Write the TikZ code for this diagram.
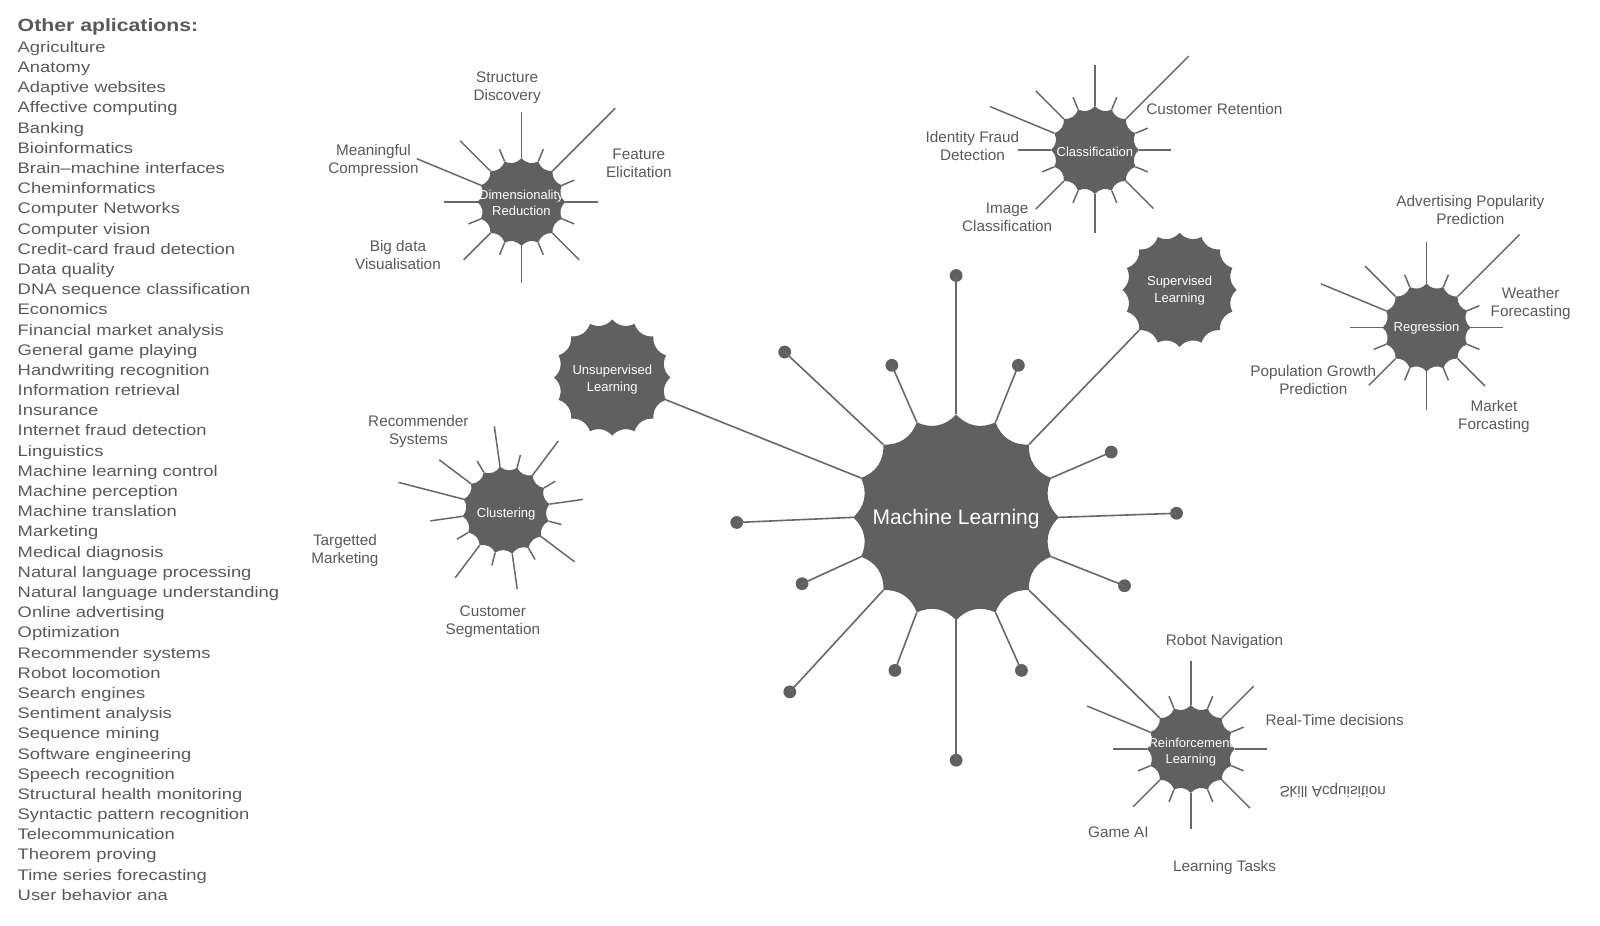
\documentclass[tikz,border=0pt]{standalone}
\usepackage{fontspec}
\setmainfont{Liberation Sans}
\newfontfamily\listfont[FakeStretch=1.2]{Liberation Sans}
\definecolor{shp}{HTML}{606060}
\definecolor{txt}{HTML}{595959}
\definecolor{ln}{HTML}{686868}
\tikzset{
  tick/.style={draw=ln, line width=0.75pt},
  spoke/.style={draw=ln, line width=0.8pt},
  dot/.style={circle, fill=shp, inner sep=0pt, minimum size=6.4pt},
  lab/.style={text=txt, font=\fontsize{7.65}{9}\selectfont, align=center, inner sep=0pt},
  inlab/.style={text=white, font=\fontsize{6.5}{8.2}\selectfont, align=center, inner sep=0pt},
  listitem/.style={text=txt, font=\listfont\fontsize{7.65}{10.1}\selectfont, anchor=base west, inner sep=0pt},
}
\newcommand\scallop[3]{% center, radius, rotation
  \fill[shp, shift={(#1)}, rotate=#3] (0:#2) foreach \k in {1,...,16}{ to[bend left=38] (\k*22.5:#2)} -- cycle;}
\newcommand\ticks[4]{% center, rotation, radius, list angle/R
  \foreach \a/\R in {#4} \draw[tick, shift={(#1)}, rotate=#2] (\a:#3) -- (\a:\R);}
\begin{document}
\begin{tikzpicture}[x=0.5102pt,y=0.5102pt]
\useasboundingbox (0,0) rectangle (1568,-907);
% ---------- left list
\node[listitem, font=\listfont\bfseries\fontsize{8.85}{10}\selectfont] (title) at (17,-31) {Other aplications:};
\foreach \t [count=\i] in {Agriculture, Anatomy, Adaptive websites, Affective computing, Banking, Bioinformatics, Brain–machine interfaces, Cheminformatics, Computer Networks, Computer vision, Credit-card fraud detection, Data quality, DNA sequence classification, Economics, Financial market analysis, General game playing, Handwriting recognition, Information retrieval, Insurance, Internet fraud detection, Linguistics, Machine learning control, Machine perception, Machine translation, Marketing, Medical diagnosis, Natural language processing, Natural language understanding, Online advertising, Optimization, Recommender systems, Robot locomotion, Search engines, Sentiment analysis, Sequence mining, Software engineering, Speech recognition, Structural health monitoring, Syntactic pattern recognition, Telecommunication, Theorem proving, Time series forecasting, User behavior ana}
  \node[listitem] (li\i) at (17,{-51.3-(\i-1)*19.786}) {\t};
% ---------- cusp coordinates
\coordinate (mlc) at (937,-507);
\coordinate (supc) at (1156,-284);
\coordinate (unsc) at (600,-370);
\coordinate (rlc) at (1167,-734);
\foreach \k in {0,...,15} {
  \path (mlc) ++(\k*22.5:101) coordinate (mlk\k);
}
\path (supc) ++(225:56) coordinate (supk);
\path (unsc) ++(-22.5:57) coordinate (unsk);
\path (rlc) ++(135:43) coordinate (rlk);
% ---------- ML spokes and dots
\foreach \k/\x/\y in {0/1153/503, 1/1089/443, 3/998/358, 4/937/270, 5/874/358, 6/769/345, 8/722/512, 9/786/572, 10/774/678, 11/877/657, 12/937/745, 13/1001/657, 15/1102/574} {
  \node[dot] (mld\k) at (\x,-\y) {};
  \draw[spoke] (mlk\k) -- (mld\k.center);
}
\draw[spoke] (mlk2) -- (supk);
\draw[spoke] (mlk7) -- (unsk);
\draw[spoke] (mlk14) -- (rlk);
% ---------- ticks
\ticks{511,-198}{0}{43}{0/75,22.5/56,45/130,67.5/56,90/88,112.5/56,135/85,157.5/111,180/76,202.5/56,225/80,247.5/56,270/79,292.5/56,315/80,337.5/56}
\ticks{1073,-147}{0}{43}{0/75,22.5/56,45/130,67.5/56,90/83,112.5/56,135/82,157.5/111,180/75,202.5/56,225/82,247.5/56,270/81,292.5/56,315/81,337.5/56}
\ticks{1398,-321}{0}{43}{0/75,22.5/56,45/129,67.5/56,90/84,112.5/56,135/85,157.5/112,180/75,202.5/56,225/80,247.5/56,270/81,292.5/56,315/81,337.5/56}
\ticks{496,-500}{8}{43}{0/76,22.5/56,45/85,67.5/56,90/83,112.5/56,135/82,157.5/109,180/75,202.5/56,225/83,247.5/56,270/78,292.5/56,315/84,337.5/56}
\ticks{1167,-734}{0}{43}{0/75,22.5/56,45/87,67.5/56,90/86,112.5/56,157.5/110,180/76,202.5/56,225/80,247.5/56,270/78,292.5/56,315/82,337.5/56}
% ---------- scalloped shapes
\scallop{937,-507}{101}{0}
\scallop{1156,-284}{56}{0}
\scallop{600,-370}{57}{0}
\scallop{511,-198}{43}{0}
\scallop{1073,-147}{43}{0}
\scallop{1398,-321}{43}{0}
\scallop{496,-500}{43}{8}
\scallop{1167,-734}{43}{0}
% ---------- texts inside shapes
\node[inlab, font=\fontsize{10.5}{12}\selectfont] (ml) at (937,-509) {Machine Learning};
\node[inlab] (sup) at (1156,-285) {Supervised\\Learning};
\node[inlab] (uns) at (600,-372) {Unsupervised\\Learning};
\node[inlab] (dim) at (511,-199) {Dimensionality\\Reduction};
\node[inlab] (cla) at (1073,-149) {Classification};
\node[inlab] (reg) at (1398,-322) {Regression};
\node[inlab] (clu) at (496,-504) {Clustering};
\node[inlab] (rl) at (1167,-737) {Reinforcement\\Learning};
% ---------- labels
\node[lab] (l1) at (497,-86) {Structure\\Discovery};
\node[lab] (l2) at (366,-157) {Meaningful\\Compression};
\node[lab] (l3) at (626,-160) {Feature\\Elicitation};
\node[lab] (l4) at (390,-250) {Big data\\Visualisation};
\node[lab] (l5) at (953,-143) {Identity Fraud\\Detection};
\node[lab] (l6) at (1190,-107) {Customer Retention};
\node[lab] (l7) at (987,-213) {Image\\Classification};
\node[lab] (l8) at (1441,-206) {Advertising Popularity\\Prediction};
\node[lab] (l9) at (1500,-297) {Weather\\Forecasting};
\node[lab] (l10) at (1287,-372) {Population Growth\\Prediction};
\node[lab] (l11) at (1464,-408) {Market\\Forcasting};
\node[lab] (l12) at (410,-423) {Recommender\\Systems};
\node[lab] (l13) at (338,-540) {Targetted\\Marketing};
\node[lab] (l14) at (483,-609) {Customer\\Segmentation};
\node[lab] (l15) at (1200,-629) {Robot Navigation};
\node[lab] (l16) at (1308,-706) {Real-Time decisions};
\node[lab] (l17) at (1306,-775) {\scalebox{1}[-1]{Skill Acquisition}};
\node[lab] (l18) at (1096,-816) {Game AI};
\node[lab] (l19) at (1200,-850) {Learning Tasks};
\end{tikzpicture}
\end{document}
